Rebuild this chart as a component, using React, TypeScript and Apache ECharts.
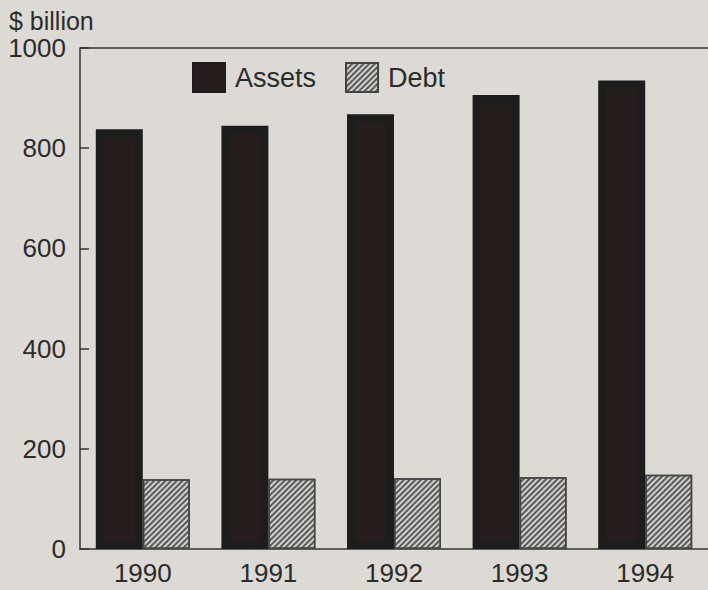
import React, { useEffect, useRef } from "react";
import * as echarts from "echarts";

const years = ["1990", "1991", "1992", "1993", "1994"];
const assets = [838, 845, 868, 906, 935];
const debt = [139, 140, 141, 143, 148];
const yTicks = { min: 0, max: 1000, interval: 200 };
const unitLabel = "$ billion";

const FONT = "'Liberation Sans', Arial, Helvetica, sans-serif";
const INK = "#2b2b2b";

export default function App() {
  const ref = useRef<HTMLDivElement>(null);
  useEffect(() => {
    if (!ref.current) return;
    const chart = echarts.init(ref.current, null, { renderer: "svg" });
    chart.setOption({
      animation: false,
      backgroundColor: "#dddad5",
      textStyle: { fontFamily: FONT, color: INK },
      grid: {
        left: 80,
        top: 48,
        width: 631,
        height: 501,
        show: false,
      },
      legend: {
        left: 192,
        top: 62,
        padding: 0,
        itemWidth: 32,
        itemHeight: 29,
        itemGap: 29,
        icon: "rect",
        textStyle: { fontSize: 27, color: INK, fontFamily: FONT, padding: [0, 0, 0, 5] },
        data: ["Assets", "Debt"],
      },
      graphic: [
        {
          type: "text",
          left: 9,
          top: 8,
          style: { text: unitLabel, fontSize: 25, fill: INK, fontFamily: FONT },
        },
        {
          type: "line",
          shape: { x1: 80, y1: 48, x2: 708, y2: 48 },
          style: { stroke: "#333", lineWidth: 1.5 },
        },
      ],
      xAxis: {
        type: "category",
        data: years,
        axisLine: { lineStyle: { color: "#333", width: 1.5 } },
        axisTick: { show: false },
        axisLabel: { fontSize: 26, color: INK, margin: 11, fontFamily: FONT },
      },
      yAxis: {
        type: "value",
        min: yTicks.min,
        max: yTicks.max,
        interval: yTicks.interval,
        axisLine: { show: true, lineStyle: { color: "#333", width: 1.5 } },
        axisTick: { show: true, inside: true, length: 9, lineStyle: { color: "#333", width: 1.5 } },
        splitLine: { show: false },
        axisLabel: {
          fontSize: 26,
          color: INK,
          margin: 14,
          fontFamily: FONT,
          formatter: (v: number) => String(v),
        },
      },
      series: [
        {
          name: "Assets",
          type: "bar",
          data: assets,
          barWidth: 47,
          barGap: "0%",
          itemStyle: { color: "#261e1c", borderColor: "#1d1d1d", borderWidth: 8 },
        },
        {
          name: "Debt",
          type: "bar",
          data: debt,
          barWidth: 47,
          barGap: "0%",
          itemStyle: {
            color: "#d2d0cc",
            borderColor: "#444",
            borderWidth: 1.5,
            decal: {
              symbol: "rect",
              dashArrayX: [1, 0],
              dashArrayY: [1.2, 2],
              rotation: -Math.PI / 4,
              color: "#5a5a5a",
            },
          },
        },
      ],
    });
    return () => chart.dispose();
  }, []);
  return (
    <div
      ref={ref}
      style={{ position: "fixed", left: 0, top: 0, width: 708, height: 590 }}
    />
  );
}
